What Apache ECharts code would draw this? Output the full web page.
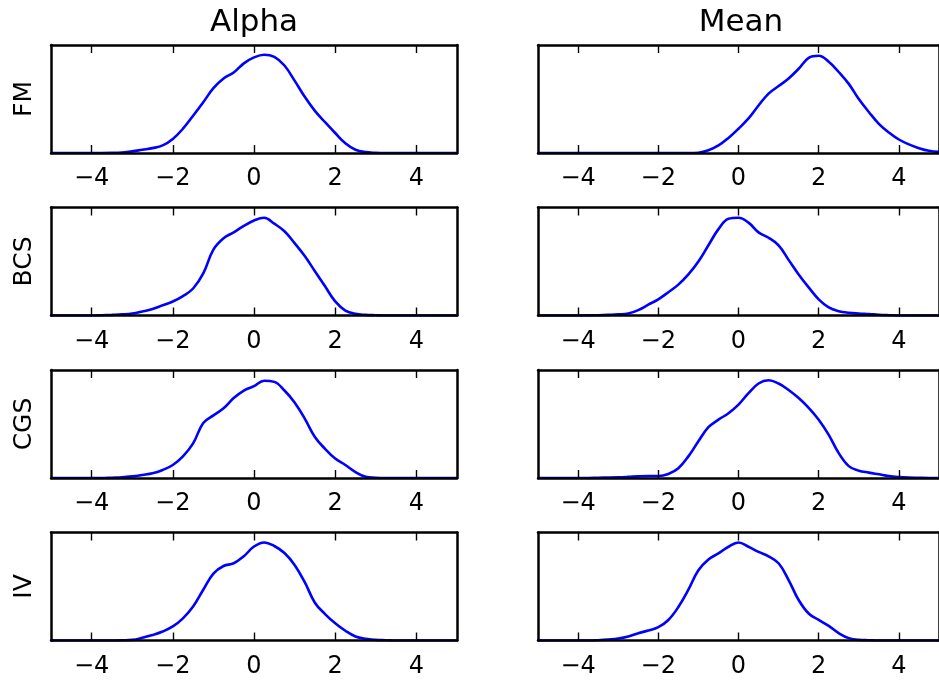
<!DOCTYPE html>
<html>
<head>
<meta charset="utf-8">
<script src="https://cdn.jsdelivr.net/npm/echarts@6/dist/echarts.min.js"></script>
<style>
html,body{margin:0;padding:0;background:#fff;}
#chart{width:939px;height:680px;}
</style>
</head>
<body>
<div id="chart"></div>
<script>
// ---- data ----
var columnTitles = ['Alpha', 'Mean'];
var rowLabels = ['FM', 'BCS', 'CGS', 'IV'];
var tickValues = [-4, -2, 0, 2, 4];
// evaluation grid for the density curves: -5 .. 5 in steps of 0.25 (41 points)
var xGrid = [-5,-4.75,-4.5,-4.25,-4,-3.75,-3.5,-3.25,-3,-2.75,-2.5,-2.25,-2,-1.75,-1.5,-1.25,-1,-0.75,-0.5,-0.25,0,
             0.25,0.5,0.75,1,1.25,1.5,1.75,2,2.25,2.5,2.75,3,3.25,3.5,3.75,4,4.25,4.5,4.75,5];
// scaled density values (axis runs 0..1)
var fmAlpha  = [0,0,0,0,0,0,0.001,0.005,0.015,0.03,0.045,0.07,0.13,0.225,0.345,0.47,0.6,0.69,0.745,0.83,0.885,
                0.91,0.89,0.81,0.67,0.52,0.39,0.285,0.185,0.09,0.03,0.008,0.002,0,0,0,0,0,0,0,0];
var fmMean   = [0,0,0,0,0,0,0,0,0,0,0,0,0,0,0,0,0.003,0.025,0.07,0.14,0.225,
                0.32,0.44,0.55,0.62,0.69,0.78,0.88,0.9,0.845,0.75,0.64,0.5,0.38,0.27,0.19,0.125,0.08,0.045,0.02,0.01];
var bcsAlpha = [0,0,0,0,0,0.003,0.006,0.01,0.018,0.037,0.06,0.095,0.13,0.18,0.25,0.39,0.61,0.715,0.77,0.83,0.88,
                0.905,0.85,0.78,0.67,0.55,0.41,0.27,0.13,0.046,0.015,0.006,0.003,0,0,0,0,0,0,0,0];
var bcsMean  = [0,0,0,0,0,0.001,0.003,0.006,0.01,0.018,0.05,0.1,0.15,0.215,0.286,0.38,0.5,0.65,0.8,0.895,0.905,
                0.86,0.77,0.72,0.65,0.515,0.38,0.26,0.15,0.075,0.04,0.025,0.018,0.013,0.007,0.003,0,0,0,0,0];
var cgsAlpha = [0,0,0,0,0,0,0.003,0.006,0.015,0.028,0.043,0.074,0.12,0.2,0.32,0.51,0.58,0.645,0.74,0.81,0.85,
                0.9,0.89,0.81,0.7,0.55,0.38,0.27,0.18,0.12,0.055,0.012,0.003,0,0,0,0,0,0,0,0];
var cgsMean  = [0,0,0,0,0,0,0.003,0.004,0.006,0.01,0.015,0.018,0.018,0.037,0.09,0.2,0.34,0.47,0.54,0.6,0.68,
                0.785,0.875,0.905,0.875,0.815,0.74,0.65,0.54,0.4,0.23,0.11,0.068,0.05,0.034,0.018,0.009,0.004,0.002,0,0];
var ivAlpha  = [0,0,0,0,0,0,0,0.002,0.006,0.025,0.05,0.083,0.13,0.205,0.314,0.47,0.62,0.69,0.715,0.78,0.87,
                0.908,0.875,0.81,0.7,0.54,0.35,0.245,0.16,0.09,0.037,0.015,0.006,0.003,0,0,0,0,0,0,0];
var ivMean   = [0,0,0,0,0,0,0.003,0.009,0.018,0.037,0.068,0.092,0.123,0.19,0.31,0.47,0.65,0.75,0.806,0.868,0.908,
                0.868,0.82,0.78,0.715,0.56,0.375,0.25,0.19,0.135,0.068,0.022,0.006,0.003,0,0,0,0,0,0,0];
var panels = [[fmAlpha, fmMean], [bcsAlpha, bcsMean], [cgsAlpha, cgsMean], [ivAlpha, ivMean]];

// ---- layout ----
var FONT = '"DejaVu Sans", "Liberation Sans", sans-serif';
var colLeft = [51, 538];
var plotW = 406;
var rowTop = [45, 207.5, 370, 532.5];
var plotH = 108;

var grids = [], xAxes = [], yAxes = [], series = [], graphics = [];
function minusFmt(v) { return String(v).replace('-', '\u2212'); }

for (var r = 0; r < 4; r++) {
  for (var c = 0; c < 2; c++) {
    var g = grids.length;
    grids.push({left: colLeft[c], top: rowTop[r], width: plotW, height: plotH, containLabel: false});
    var frameLine = {show: true, onZero: false, lineStyle: {color: '#000', width: 2.5}};
    xAxes.push({
      type: 'value', gridIndex: g, position: 'bottom', min: -5, max: 5, z: 5,
      axisLine: frameLine,
      axisTick: {show: true, inside: true, length: 8, customValues: tickValues, lineStyle: {color: '#000', width: 1.4}},
      axisLabel: {show: true, customValues: tickValues, formatter: minusFmt, fontSize: 24, color: '#000', margin: 14, fontFamily: FONT},
      splitLine: {show: false}
    });
    xAxes.push({
      type: 'value', gridIndex: g, position: 'top', min: -5, max: 5, z: 5,
      axisLine: frameLine,
      axisTick: {show: true, inside: true, length: 8, customValues: tickValues, lineStyle: {color: '#000', width: 1.4}},
      axisLabel: {show: false},
      splitLine: {show: false}
    });
    var yLeft = {
      type: 'value', gridIndex: g, position: 'left', min: 0, max: 1, z: 5,
      axisLine: frameLine, axisTick: {show: false}, axisLabel: {show: false}, splitLine: {show: false}
    };
    if (c === 0) {
      yLeft.name = rowLabels[r];
      yLeft.nameLocation = 'middle';
      yLeft.nameRotate = 90;
      yLeft.nameGap = 14;
      yLeft.nameTextStyle = {fontSize: 25, color: '#000', fontFamily: FONT};
    }
    yAxes.push(yLeft);
    yAxes.push({
      type: 'value', gridIndex: g, position: 'right', min: 0, max: 1, z: 5,
      axisLine: frameLine, axisTick: {show: false}, axisLabel: {show: false}, splitLine: {show: false}
    });
    var ys = panels[r][c];
    series.push({
      type: 'line', xAxisIndex: 2 * g, yAxisIndex: 2 * g,
      data: xGrid.map(function (x, i) { return [x, ys[i]]; }),
      showSymbol: false, symbol: 'none', smooth: 0.4, clip: true, z: 2,
      lineStyle: {color: '#0000ff', width: 2.6}
    });
  }
}
for (var c2 = 0; c2 < 2; c2++) {
  graphics.push({
    type: 'text', x: colLeft[c2] + plotW / 2, y: 23,
    style: {text: columnTitles[c2], textAlign: 'center', textVerticalAlign: 'middle', font: '31px ' + FONT, fill: '#000'}
  });
}

var chart = echarts.init(document.getElementById('chart'), null, {renderer: 'canvas'});
chart.setOption({
  animation: false,
  backgroundColor: '#fff',
  grid: grids, xAxis: xAxes, yAxis: yAxes, series: series, graphic: graphics
});
</script>
</body>
</html>
